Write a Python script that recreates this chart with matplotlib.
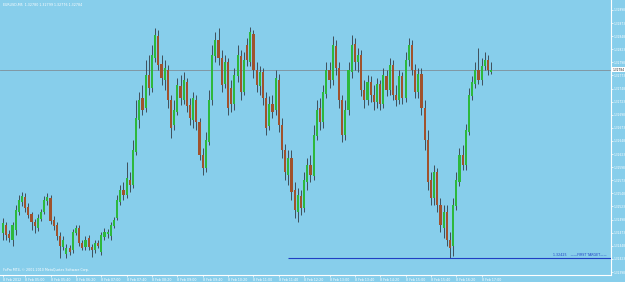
import matplotlib
matplotlib.use('Agg')
import matplotlib.pyplot as plt
import numpy as np
import pandas as pd

# EURUSD M5, 8 Feb 2012
symbol = 'EURUSD,M5'
first_bar = '2012-02-08 04:25'

opens = [1.32472, 1.32488, 1.32471, 1.32459, 1.32478, 1.32513, 1.32532, 1.32541, 1.32522, 1.32509,
         1.32494, 1.32482, 1.32499, 1.32513, 1.32534, 1.32539, 1.32497, 1.32488, 1.32467, 1.32446,
         1.32432, 1.32444, 1.32440, 1.32472, 1.32482, 1.32453, 1.32446, 1.32463, 1.32446, 1.32440,
         1.32453, 1.32436, 1.32465, 1.32471, 1.32467, 1.32486, 1.32501, 1.32532, 1.32555, 1.32545,
         1.32574, 1.32564, 1.32627, 1.32688, 1.32730, 1.32711, 1.32774, 1.32749, 1.32807, 1.32849,
         1.32795, 1.32765, 1.32784, 1.32727, 1.32679, 1.32704, 1.32753, 1.32727, 1.32761, 1.32717,
         1.32688, 1.32727, 1.32685, 1.32621, 1.32597, 1.32646, 1.32727, 1.32811, 1.32841, 1.32807,
         1.32757, 1.32799, 1.32749, 1.32719, 1.32772, 1.32811, 1.32742, 1.32832, 1.32799, 1.32853,
         1.32784, 1.32753, 1.32780, 1.32730, 1.32677, 1.32719, 1.32707, 1.32765, 1.32679, 1.32631,
         1.32583, 1.32616, 1.32555, 1.32513, 1.32543, 1.32520, 1.32570, 1.32602, 1.32581, 1.32658,
         1.32711, 1.32685, 1.32738, 1.32784, 1.32765, 1.32830, 1.32788, 1.32727, 1.32660, 1.32707,
         1.32780, 1.32833, 1.32799, 1.32812, 1.32746, 1.32727, 1.32761, 1.32736, 1.32723, 1.32757,
         1.32719, 1.32772, 1.32746, 1.32793, 1.32736, 1.32727, 1.32772, 1.32730, 1.32803, 1.32832,
         1.32784, 1.32742, 1.32776, 1.32711, 1.32650, 1.32574, 1.32539, 1.32589, 1.32526, 1.32482,
         1.32513, 1.32459, 1.32448, 1.32524, 1.32570, 1.32621, 1.32602, 1.32665, 1.32734, 1.32757,
         1.32784, 1.32765, 1.32791, 1.32803, 1.32780]

highs = [1.32501, 1.32494, 1.32478, 1.32494, 1.32526, 1.32545, 1.32551, 1.32549, 1.32530, 1.32513,
         1.32499, 1.32509, 1.32518, 1.32543, 1.32549, 1.32545, 1.32505, 1.32494, 1.32474, 1.32467,
         1.32451, 1.32450, 1.32480, 1.32488, 1.32488, 1.32459, 1.32467, 1.32469, 1.32451, 1.32459,
         1.32459, 1.32474, 1.32482, 1.32480, 1.32494, 1.32503, 1.32545, 1.32564, 1.32570, 1.32608,
         1.32589, 1.32650, 1.32727, 1.32742, 1.32755, 1.32803, 1.32812, 1.32832, 1.32864, 1.32860,
         1.32812, 1.32803, 1.32793, 1.32736, 1.32727, 1.32769, 1.32774, 1.32780, 1.32769, 1.32730,
         1.32742, 1.32736, 1.32692, 1.32635, 1.32665, 1.32746, 1.32832, 1.32856, 1.32864, 1.32822,
         1.32812, 1.32807, 1.32765, 1.32788, 1.32832, 1.32822, 1.32818, 1.32845, 1.32866, 1.32860,
         1.32799, 1.32791, 1.32788, 1.32742, 1.32734, 1.32736, 1.32784, 1.32776, 1.32692, 1.32642,
         1.32631, 1.32631, 1.32570, 1.32558, 1.32555, 1.32589, 1.32616, 1.32621, 1.32679, 1.32727,
         1.32730, 1.32755, 1.32799, 1.32799, 1.32849, 1.32841, 1.32799, 1.32736, 1.32727, 1.32799,
         1.32851, 1.32845, 1.32826, 1.32822, 1.32765, 1.32774, 1.32772, 1.32755, 1.32769, 1.32765,
         1.32788, 1.32784, 1.32807, 1.32803, 1.32755, 1.32784, 1.32780, 1.32818, 1.32845, 1.32841,
         1.32795, 1.32788, 1.32788, 1.32727, 1.32669, 1.32589, 1.32602, 1.32597, 1.32539, 1.32526,
         1.32526, 1.32474, 1.32539, 1.32589, 1.32635, 1.32641, 1.32681, 1.32749, 1.32772, 1.32799,
         1.32826, 1.32807, 1.32818, 1.32812, 1.32799]

lows = [1.32459, 1.32459, 1.32455, 1.32448, 1.32469, 1.32507, 1.32524, 1.32513, 1.32501, 1.32478,
        1.32472, 1.32476, 1.32495, 1.32509, 1.32526, 1.32490, 1.32478, 1.32459, 1.32425, 1.32440,
        1.32425, 1.32430, 1.32434, 1.32469, 1.32448, 1.32440, 1.32440, 1.32440, 1.32427, 1.32434,
        1.32444, 1.32430, 1.32459, 1.32463, 1.32459, 1.32482, 1.32497, 1.32526, 1.32536, 1.32539,
        1.32551, 1.32558, 1.32621, 1.32673, 1.32698, 1.32704, 1.32736, 1.32742, 1.32799, 1.32784,
        1.32755, 1.32746, 1.32711, 1.32654, 1.32669, 1.32698, 1.32717, 1.32719, 1.32704, 1.32679,
        1.32673, 1.32669, 1.32612, 1.32583, 1.32589, 1.32641, 1.32717, 1.32799, 1.32793, 1.32742,
        1.32749, 1.32698, 1.32704, 1.32707, 1.32761, 1.32727, 1.32736, 1.32791, 1.32791, 1.32769,
        1.32742, 1.32736, 1.32717, 1.32660, 1.32669, 1.32692, 1.32698, 1.32665, 1.32616, 1.32574,
        1.32564, 1.32536, 1.32501, 1.32494, 1.32507, 1.32513, 1.32555, 1.32570, 1.32574, 1.32650,
        1.32669, 1.32673, 1.32730, 1.32749, 1.32755, 1.32774, 1.32711, 1.32646, 1.32650, 1.32698,
        1.32769, 1.32784, 1.32780, 1.32734, 1.32711, 1.32717, 1.32723, 1.32707, 1.32711, 1.32707,
        1.32711, 1.32734, 1.32736, 1.32727, 1.32715, 1.32719, 1.32719, 1.32723, 1.32791, 1.32774,
        1.32730, 1.32730, 1.32698, 1.32631, 1.32555, 1.32526, 1.32526, 1.32513, 1.32474, 1.32463,
        1.32448, 1.32425, 1.32429, 1.32516, 1.32562, 1.32593, 1.32593, 1.32660, 1.32727, 1.32749,
        1.32757, 1.32755, 1.32784, 1.32774, 1.32776]

closes = [1.32492, 1.32469, 1.32463, 1.32488, 1.32516, 1.32536, 1.32543, 1.32520, 1.32507, 1.32494,
          1.32486, 1.32501, 1.32513, 1.32536, 1.32541, 1.32495, 1.32486, 1.32467, 1.32448, 1.32459,
          1.32444, 1.32436, 1.32474, 1.32482, 1.32453, 1.32444, 1.32459, 1.32446, 1.32440, 1.32453,
          1.32448, 1.32469, 1.32474, 1.32474, 1.32488, 1.32497, 1.32536, 1.32555, 1.32545, 1.32578,
          1.32564, 1.32631, 1.32692, 1.32727, 1.32707, 1.32774, 1.32749, 1.32812, 1.32851, 1.32793,
          1.32769, 1.32788, 1.32727, 1.32673, 1.32707, 1.32755, 1.32730, 1.32765, 1.32715, 1.32692,
          1.32730, 1.32685, 1.32621, 1.32597, 1.32650, 1.32727, 1.32812, 1.32841, 1.32807, 1.32755,
          1.32799, 1.32711, 1.32719, 1.32774, 1.32812, 1.32742, 1.32803, 1.32803, 1.32856, 1.32784,
          1.32755, 1.32780, 1.32730, 1.32673, 1.32719, 1.32704, 1.32769, 1.32679, 1.32631, 1.32589,
          1.32616, 1.32551, 1.32516, 1.32545, 1.32520, 1.32574, 1.32602, 1.32583, 1.32660, 1.32707,
          1.32685, 1.32742, 1.32784, 1.32765, 1.32832, 1.32788, 1.32727, 1.32660, 1.32707, 1.32784,
          1.32832, 1.32799, 1.32812, 1.32746, 1.32727, 1.32761, 1.32736, 1.32723, 1.32757, 1.32719,
          1.32774, 1.32746, 1.32793, 1.32736, 1.32727, 1.32772, 1.32730, 1.32803, 1.32832, 1.32784,
          1.32742, 1.32776, 1.32711, 1.32650, 1.32570, 1.32539, 1.32589, 1.32526, 1.32488, 1.32513,
          1.32459, 1.32444, 1.32526, 1.32574, 1.32621, 1.32602, 1.32669, 1.32736, 1.32761, 1.32784,
          1.32765, 1.32791, 1.32803, 1.32784, 1.32784]

price_ticks = [1.32398, 1.32423, 1.32448, 1.32473, 1.32498, 1.32523, 1.32548, 1.32573, 1.32598,
               1.32623, 1.32648, 1.32673, 1.32698, 1.32723, 1.32748, 1.32773, 1.32798, 1.32823,
               1.32848, 1.32873, 1.32898]
time_ticks = ['04:25', '05:00', '05:40', '06:20', '07:00', '07:40', '08:20', '09:00', '09:40', '10:20',
              '11:00', '11:40', '12:20', '13:00', '13:40', '14:20', '15:00', '15:40', '16:20', '17:00']

target_price = 1.32425
target_from = '11:55'
target_name = 'FIRST TARGET'

bg = '#87CEEB'
bull = '#2DB83D'
bear = '#A0522D'
wick = '#3F4F5A'

times = pd.date_range(first_bar, periods=len(closes), freq='5min')
hhmm = list(times.strftime('%H:%M'))
x = np.arange(len(closes))
o = np.array(opens)
c = np.array(closes)

fig = plt.figure(figsize=(6.25, 2.82), dpi=100)
fig.patch.set_facecolor(bg)
ax = fig.add_axes([0, 7 / 282, 611 / 625, 275 / 282])
ax.set_facecolor(bg)

# candles
ax.vlines(x, lows, highs, color=wick, lw=0.7, zorder=2)
up = c >= o
ax.bar(x[up], (c - o)[up], bottom=o[up], width=0.68, color=bull, lw=0, zorder=3)
ax.bar(x[~up], (c - o)[~up], bottom=o[~up], width=0.68, color=bear, lw=0, zorder=3)

ax.set_xlim(-0.95, 191.8)
ax.set_ylim(1.323923, 1.32917)

# current price line
ax.axhline(closes[-1], color='#7F8F99', lw=0.6, zorder=1)

# target line
t0 = hhmm.index(target_from)
ax.hlines(target_price, t0, 191.8, color='#1F3FC4', lw=0.8, zorder=4)
ax.text(190.5, target_price + 0.000015, '%.5f    \u2014\u2014%s\u2014\u2014' % (target_price, target_name),
        ha='right', va='bottom', fontsize=2.3, color='#1F3FC4')

# axes look
for s in ['top', 'left']:
    ax.spines[s].set_visible(False)
for s in ['right', 'bottom']:
    ax.spines[s].set_color('white')
    ax.spines[s].set_linewidth(0.8)

ax.yaxis.tick_right()
ax.set_yticks(price_ticks)
ax.set_yticklabels(['%.5f' % p for p in price_ticks])
ax.tick_params(axis='y', colors='white', labelsize=2.1, length=1.2, width=0.5, pad=0.4)

pos = [hhmm.index(t) for t in time_ticks]
labels = ['8 Feb 2012'] + ['8 Feb ' + t for t in time_ticks[1:]]
ax.set_xticks(pos)
ax.set_xticklabels(labels, ha='left')
ax.tick_params(axis='x', colors='white', labelsize=2.3, length=1.5, width=0.5, pad=0.6)

# current price tag
ax.text(1.002, closes[-1], '%.5f' % closes[-1], transform=ax.get_yaxis_transform(),
        ha='left', va='center', fontsize=2.1, color='#202020', clip_on=False, zorder=6,
        bbox=dict(boxstyle='square,pad=0.15', fc='white', ec='none'))

ax.text(0.005, 0.99, '%s  %.5f %.5f %.5f %.5f' % (symbol, opens[-1], highs[-1], lows[-1], closes[-1]),
        transform=ax.transAxes, ha='left', va='top', fontsize=2.3, color='white')
ax.text(0.005, 0.012, 'FxPro MT4, \u00a9 2001-2010 MetaQuotes Software Corp.',
        transform=ax.transAxes, ha='left', va='bottom', fontsize=2.3, color='white')

fig.savefig('out.png', dpi=100, facecolor=bg)
